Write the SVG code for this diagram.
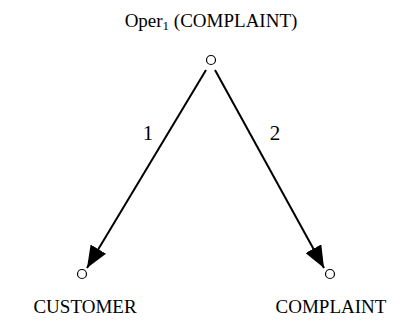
<svg xmlns="http://www.w3.org/2000/svg" width="405" height="321" viewBox="0 0 405 321">
<style>
text{font-family:"Liberation Serif","Times New Roman",serif;font-size:19px;fill:#000}
.lbl{font-size:21px}
.n{fill:#fff;stroke:#000;stroke-width:1.2}
.e{stroke:#000;stroke-width:2;fill:none}
</style>
<defs>
<marker id="a" viewBox="0 0 22 18" refX="22" refY="9" markerWidth="22" markerHeight="18" orient="auto" markerUnits="userSpaceOnUse"><path d="M0,0 L22,9 L0,18 Z" fill="#000"/></marker>
</defs>
<rect width="405" height="321" fill="#fff"/>
<g id="connectors">
<line class="e" x1="206" y1="70" x2="87" y2="268" marker-end="url(#a)"/>
<line class="e" x1="215" y1="70" x2="324" y2="268" marker-end="url(#a)"/>
<text class="lbl" x="148" y="140" text-anchor="middle">1</text>
<text class="lbl" x="275" y="140" text-anchor="middle">2</text>
</g>
<g id="n-oper">
<text x="211" y="27" text-anchor="middle" font-size="20">Oper<tspan font-size="13" dy="3">1</tspan><tspan dy="-3"> (COMPLAINT)</tspan></text>
<circle class="n" cx="211" cy="60" r="4.5"/>
</g>
<g id="n-customer">
<circle class="n" cx="82" cy="274" r="4.5"/>
<text x="85" y="313" text-anchor="middle">CUSTOMER</text>
</g>
<g id="n-complaint">
<circle class="n" cx="330" cy="274" r="4.5"/>
<text x="331" y="313" text-anchor="middle">COMPLAINT</text>
</g>
</svg>
